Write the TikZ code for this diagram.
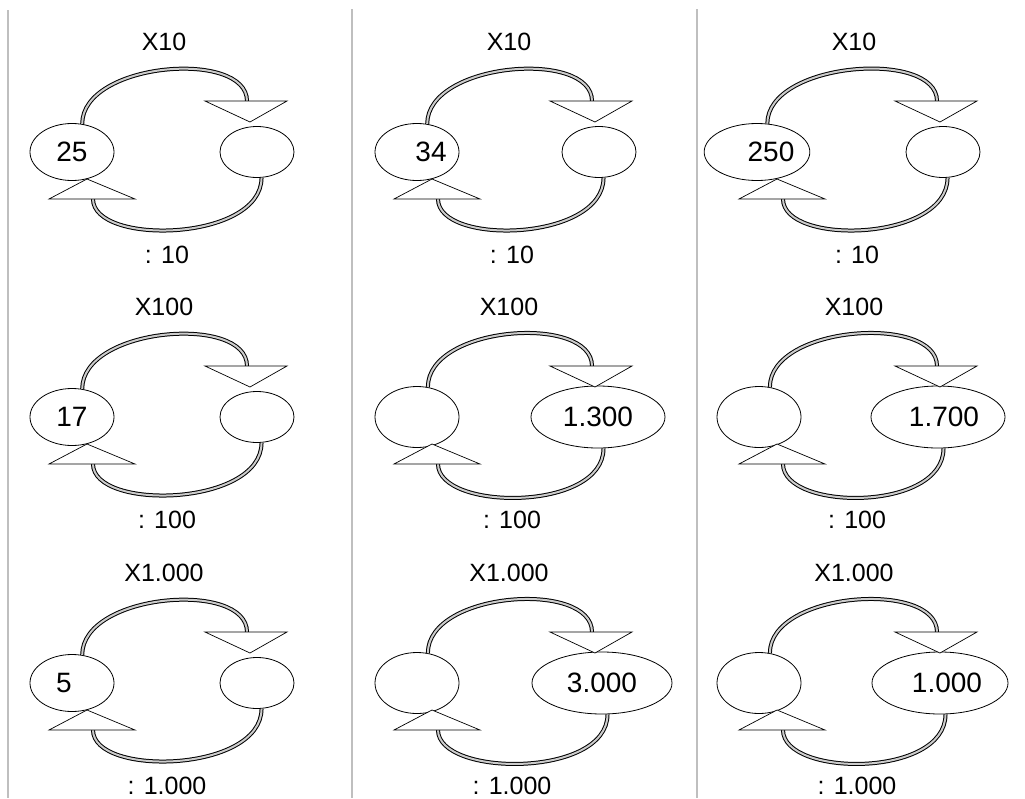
\documentclass[tikz,border=0pt]{standalone}
\usepackage{fontspec}
\setmainfont{Liberation Sans}
\usetikzlibrary{shapes,positioning,calc}

\tikzset{
  oval/.style={draw, ellipse, inner sep=0pt, line width=0.8pt, font=\fontsize{28}{32}\selectfont},
  leftoval/.style={oval, minimum width=84pt, minimum height=57pt},
  rightoval/.style={oval, minimum width=74pt, minimum height=51pt},
  wideoval/.style={oval, minimum width=134pt, minimum height=62pt},
  band/.style={line width=1pt, double=gray!40, double distance=2pt},
  head/.style={draw, fill=white, line width=0.7pt, line join=miter},
  factor/.style={font=\fontsize{25}{29}\selectfont},
  divider/.style={draw=gray!50, line width=2pt}
}

% one conversion cycle: x, y, top, bottom, left style, left text, right style, right text
\newcommand{\convpanel}[8]{%
  \begin{scope}[shift={(#1,#2)}]
    \node [factor] (top) at (164,42) {#3};
    \node [factor] (bot) at (167,255) {#4};
    \node [#5] (left) at (72,152) {#6};
    \node [#7] (right) at (257,152) {#8};
    \coordinate (dn) at (247,101);
    \coordinate (up) at (93,199);
    \draw [band] (left.70) .. controls +(0,-62) and +(0,-52) .. (dn);
    \draw [band] (right.-80) .. controls +(0,64) and +(0,47) .. (up);
    \draw [head] (205,101) -- (287,101) -- (250,122) -- cycle;
    \draw [head] (49,199) -- (135,199) -- (87,179) -- cycle;
  \end{scope}}

\begin{document}
\begin{tikzpicture}[x=1pt, y=-1pt]
  \useasboundingbox (0,0) rectangle (1025,798);

  % column rules
  \draw [divider] (8,10) -- (8,798);
  \draw [divider] (352,9) -- (352,798);
  \draw [divider] (697,9) -- (697,798);

  % x10
  \convpanel{0}{0}{X10}{: 10}{leftoval}{25}{rightoval}{}
  \convpanel{345}{0}{X10}{: 10}{leftoval}{\hspace*{28pt}34}{rightoval,xshift=-3pt}{}
  \convpanel{690}{0}{X10}{: 10}{leftoval,minimum width=105pt,xshift=-5pt}{\hspace*{28pt}250}{rightoval,xshift=-4pt}{}

  % x100
  \convpanel{0}{265}{X100}{: 100}{leftoval}{17}{rightoval}{}
  \convpanel{345}{265}{X100}{: 100}{leftoval,minimum height=61pt}{}{wideoval,xshift=-4pt}{1.300}
  \convpanel{690}{265}{X100}{: 100}{leftoval,minimum height=61pt,xshift=-3pt}{}{wideoval,xshift=-9pt}{\hspace*{12pt}1.700}

  % x1.000
  \convpanel{0}{531}{X1.000}{: 1.000}{leftoval}{\hspace*{-16pt}5}{rightoval}{}
  \convpanel{345}{531}{X1.000}{: 1.000}{leftoval,minimum height=61pt}{}{wideoval,minimum width=140pt}{3.000}
  \convpanel{690}{531}{X1.000}{: 1.000}{leftoval,minimum height=61pt,xshift=-3pt}{}{wideoval,minimum width=136pt,xshift=-7pt}{\hspace*{14pt}1.000}
\end{tikzpicture}
\end{document}
